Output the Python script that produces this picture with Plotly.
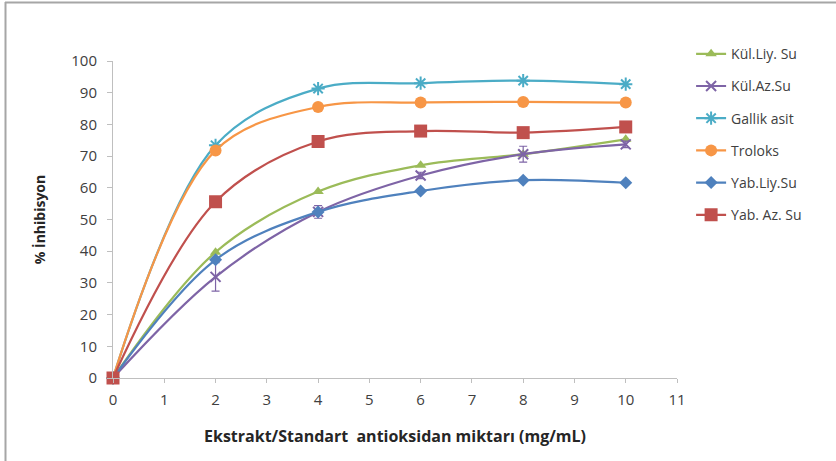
import plotly.graph_objects as go

x_vals = [0, 2, 4, 6, 8, 10]
kul_liy = [0, 39.7, 58.8, 67.1, 70.6, 75.3]
kul_az = [0, 31.9, 52.4, 63.9, 70.6, 73.7]
kul_az_err = [0, 4.5, 2.0, 1.0, 2.5, 1.0]
gallik = [0, 73.4, 91.3, 93.0, 93.8, 92.7]
troloks = [0, 71.8, 85.5, 86.9, 87.1, 86.9]
yab_liy = [0, 37.3, 52.4, 59.0, 62.4, 61.6]
yab_az = [0, 55.6, 74.6, 77.9, 77.4, 79.2]

names = ["Kül.Liy. Su", "Kül.Az.Su", "Gallik asit", "Troloks", "Yab.Liy.Su", "Yab. Az. Su"]
series = [kul_liy, kul_az, gallik, troloks, yab_liy, yab_az]
colors = ["#9BBB59", "#7E64A6", "#4BACC6", "#F79646", "#4F81BD", "#C0504D"]
symbols = ["triangle-up", "x-thin", "asterisk", "circle", "diamond", "square"]
sizes = [10, 10, 11, 12, 10, 13]

fig = go.Figure()
for i, (nm, ys, c, s, sz) in enumerate(zip(names, series, colors, symbols, sizes)):
    err = None
    if nm == "Kül.Az.Su":
        err = dict(type="data", array=kul_az_err, visible=True, color=c, thickness=1.2, width=4)
    fig.add_trace(go.Scatter(
        x=x_vals, y=ys, name=nm, mode="lines+markers", cliponaxis=False,
        line=dict(color=c, width=2.2, shape="spline"),
        marker=dict(symbol=s, size=sz, color=c, line=dict(color=c, width=2 if s in ("x-thin", "asterisk") else 0)),
        error_y=err, legendgroup="g%d" % i,
    ))

fig.update_layout(
    width=836, height=461,
    margin=dict(l=113, r=159, t=61, b=83),
    paper_bgcolor="white", plot_bgcolor="white",
    font=dict(family="Open Sans, sans-serif", size=15, color="#404040"),
    showlegend=True,
    legend=dict(x=1.025, y=1.072, xanchor="left", yanchor="top",
                font=dict(size=14, color="#404040"), tracegroupgap=11,
                bgcolor="rgba(0,0,0,0)"),
    xaxis=dict(range=[0, 11], dtick=1, tick0=0, showgrid=False, zeroline=False,
               showline=True, linecolor="#BFBFBF", linewidth=1,
               ticks="outside", ticklen=4, tickcolor="#BFBFBF", ticklabelstandoff=4,
               title=dict(text="<b>Ekstrakt/Standart  antioksidan miktarı (mg/mL)</b>",
                          font=dict(size=16, color="#262626"), standoff=22)),
    yaxis=dict(range=[0, 100], dtick=10, showgrid=False, zeroline=False,
               showline=True, linecolor="#BFBFBF", linewidth=1,
               ticks="outside", ticklen=5, tickcolor="#BFBFBF", ticklabelstandoff=7,
               title=dict(text="<b>% İnhibisyon</b>", font=dict(size=14, color="#262626"), standoff=22)),
)

# border lines (top and left) of the chart frame
fig.add_shape(type="line", xref="paper", yref="paper", x0=(5 - 113) / 564, x1=(836 - 113) / 564,
              y0=(378 - 2.5) / 317, y1=(378 - 2.5) / 317, line=dict(color="#A6A6A6", width=2))
fig.add_shape(type="line", xref="paper", yref="paper", x0=(5.5 - 113) / 564, x1=(5.5 - 113) / 564,
              y0=(378 - 2) / 317, y1=(378 - 461) / 317, line=dict(color="#A6A6A6", width=2))

fig.write_html("out.html")
